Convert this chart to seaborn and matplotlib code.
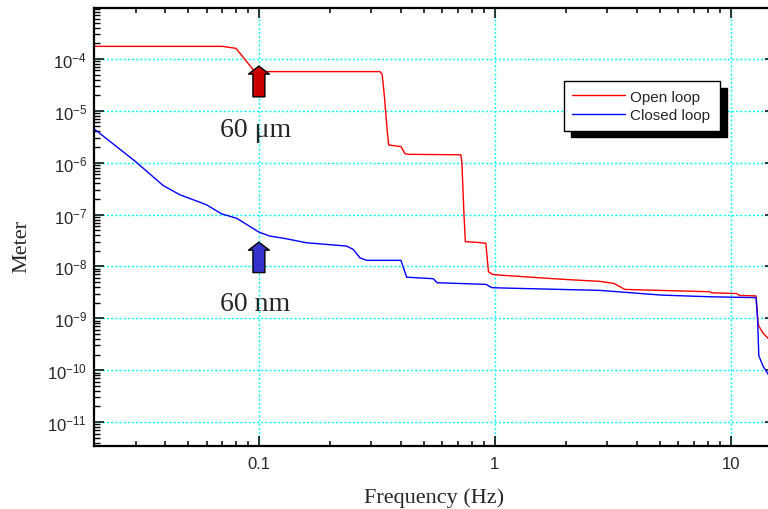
import numpy as np
import pandas as pd
import matplotlib
matplotlib.use("Agg")
import matplotlib.pyplot as plt
from matplotlib.lines import Line2D
from matplotlib.ticker import FixedLocator, FixedFormatter, NullFormatter
import seaborn as sns

# ---------------- data ----------------
series_names = ["Open loop", "Closed loop"]

red_freq = [0.02, 0.07, 0.08, 0.096, 0.2, 0.326, 0.333, 0.34, 0.35, 0.355, 0.38, 0.40,
            0.416, 0.43, 0.6, 0.718, 0.725, 0.74, 0.75, 0.85, 0.916, 0.94, 0.98, 1.05,
            1.5, 2.0, 2.79, 3.2, 3.56, 5.0, 8.15, 8.3, 10.6, 10.9, 12.8, 13.0, 13.06,
            13.15, 13.7, 14.4, 15.4]
red_amp = [1.75e-4, 1.75e-4, 1.6e-4, 5.7e-5, 5.7e-5, 5.7e-5, 5.0e-5, 2.0e-5, 4.0e-6, 2.2e-6,
           2.1e-6, 2.05e-6, 1.5e-6, 1.45e-6, 1.43e-6, 1.42e-6, 1.0e-6, 1.0e-7, 3.0e-8, 2.9e-8,
           2.8e-8, 7.9e-9, 7.0e-9, 6.8e-9, 6.1e-9, 5.6e-9, 5.15e-9, 4.7e-9, 3.6e-9, 3.45e-9,
           3.25e-9, 3.1e-9, 3.0e-9, 2.75e-9, 2.7e-9, 1.1e-9, 8.0e-10, 7.1e-10, 5.2e-10,
           4.1e-10, 3.4e-10]

blue_freq = [0.02, 0.03, 0.0393, 0.0463, 0.0562, 0.060, 0.0695, 0.0804, 0.1, 0.111, 0.127,
             0.159, 0.235, 0.251, 0.268, 0.286, 0.40, 0.423, 0.548, 0.57, 0.92, 0.97, 1.05,
             2.79, 5.08, 8.15, 12.8, 13.0, 13.15, 13.7, 14.4, 15.4]
blue_amp = [4.5e-6, 1.05e-6, 3.62e-7, 2.4e-7, 1.73e-7, 1.54e-7, 1.03e-7, 8.5e-8, 4.6e-8,
            3.85e-8, 3.5e-8, 2.86e-8, 2.47e-8, 2.13e-8, 1.47e-8, 1.31e-8, 1.31e-8, 6.2e-9,
            5.8e-9, 4.85e-9, 4.5e-9, 3.9e-9, 3.85e-9, 3.45e-9, 2.8e-9, 2.6e-9, 2.5e-9,
            9.0e-10, 1.9e-10, 1.2e-10, 8.4e-11, 7.0e-11]

x_tick_values = [0.1, 1, 10]
x_tick_labels = ["0.1", "1", "10"]
y_tick_values = [1e-11, 1e-10, 1e-9, 1e-8, 1e-7, 1e-6, 1e-5, 1e-4]
y_tick_labels = [r"$\mathregular{10^{-11}}$", r"$\mathregular{10^{-10}}$",
                 r"$\mathregular{10^{-9}}$", r"$\mathregular{10^{-8}}$",
                 r"$\mathregular{10^{-7}}$", r"$\mathregular{10^{-6}}$",
                 r"$\mathregular{10^{-5}}$", r"$\mathregular{10^{-4}}$"]
annotation_texts = ["60 \u03bcm", "60 nm"]
x_label = "Frequency (Hz)"
y_label = "Meter"

df = pd.concat([
    pd.DataFrame({"freq": red_freq, "amp": red_amp, "series": series_names[0]}),
    pd.DataFrame({"freq": blue_freq, "amp": blue_amp, "series": series_names[1]}),
], ignore_index=True)

# ---------------- style ----------------
sns.set_style("ticks")
sans = ["Liberation Sans", "DejaVu Sans"]
serif = ["Liberation Serif", "DejaVu Serif"]
plt.rcParams["font.family"] = sans
plt.rcParams["mathtext.default"] = "regular"

colors = {"Open loop": "#FF0000", "Closed loop": "#0000FF"}

fig = plt.figure(figsize=(7.68, 5.10), dpi=100)
ax = fig.add_axes([94 / 768, 63 / 510, 681 / 768, 438 / 510])
ax.set_xscale("log")
ax.set_yscale("log")

sns.lineplot(data=df, x="freq", y="amp", hue="series", hue_order=series_names,
             palette=colors, estimator=None, sort=False, linewidth=1.0,
             legend=False, ax=ax)

ax.set_xlim(0.02, 15.4)
ax.set_ylim(3.45e-12, 9.6e-4)

# ticks (log minor ticks 2..9 in every decade)
minor_x = [s * 10.0 ** e for e in range(-2, 2) for s in range(2, 10)]
minor_y = [s * 10.0 ** e for e in range(-12, -3) for s in range(2, 10)]
ax.xaxis.set_major_locator(FixedLocator(x_tick_values))
ax.xaxis.set_major_formatter(FixedFormatter(x_tick_labels))
ax.xaxis.set_minor_locator(FixedLocator(minor_x))
ax.xaxis.set_minor_formatter(NullFormatter())
ax.yaxis.set_major_locator(FixedLocator(y_tick_values))
ax.yaxis.set_major_formatter(FixedFormatter(y_tick_labels))
ax.yaxis.set_minor_locator(FixedLocator(minor_y))
ax.yaxis.set_minor_formatter(NullFormatter())

ax.tick_params(which="both", direction="in", top=True, right=True, left=True,
               bottom=True, color="black")
ax.tick_params(axis="x", which="major", length=7.2, width=1.1, pad=7, labelsize=12)
ax.tick_params(axis="x", which="minor", length=3.6, width=1.1)
ax.tick_params(axis="y", which="major", length=7.5, width=1.1, pad=5, labelsize=12)
ax.tick_params(axis="y", which="minor", length=4.0, width=1.0)
for lab in ax.get_xticklabels() + ax.get_yticklabels():
    lab.set_family(sans)

for s in ax.spines.values():
    s.set_visible(True)
    s.set_linewidth(1.6)
    s.set_color("black")

ax.grid(True, which="major", color="#00FFFF", linestyle=(0, (1.5, 1.5)), linewidth=1.0)
ax.set_axisbelow(True)

ax.set_xlabel(x_label, fontsize=16, family=serif, labelpad=12)
ax.set_ylabel(y_label, fontsize=16, family=serif)
ax.yaxis.set_label_coords(-0.092, 0.457)

# arrows
arrow_style = "simple,head_length=5.8,head_width=15,tail_width=8.6"
ax.annotate("", xy=(0.1, 7.3e-5), xytext=(0.1, 1.86e-5),
            arrowprops=dict(arrowstyle=arrow_style, mutation_scale=1,
                            fc="#CC0000", ec="black", lw=1.0, shrinkA=0, shrinkB=0))
ax.annotate("", xy=(0.1, 2.94e-8), xytext=(0.1, 7.6e-9),
            arrowprops=dict(arrowstyle=arrow_style, mutation_scale=1,
                            fc="#3333CC", ec="black", lw=1.0, shrinkA=0, shrinkB=0))
ax.text(0.0684, 3.33e-6, annotation_texts[0], fontsize=20, family=serif,
        ha="left", va="baseline")
ax.text(0.0684, 1.44e-9, annotation_texts[1], fontsize=20, family=serif,
        ha="left", va="baseline")

# legend
handles = [Line2D([], [], color=colors[n], lw=1.0) for n in series_names]
leg = ax.legend(handles, series_names, loc="upper left",
                bbox_to_anchor=(0.690, 0.0, 0.229, 0.833), mode="expand",
                borderaxespad=0, frameon=True, fancybox=False, edgecolor="black",
                framealpha=1, shadow={"color": "black", "alpha": 1, "ox": 5, "oy": -5},
                prop={"family": sans, "size": 11}, handlelength=3.45,
                handletextpad=0.3, borderpad=0.55, labelspacing=0.3)
leg.get_frame().set_linewidth(1.0)

fig.savefig("out.png", dpi=100)
